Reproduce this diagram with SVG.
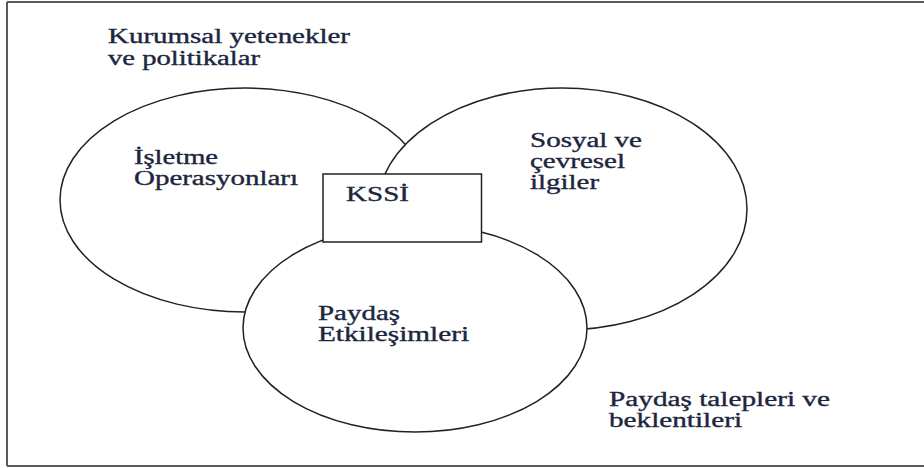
<svg xmlns="http://www.w3.org/2000/svg" width="924" height="468" viewBox="0 0 924 468">
<style>
.frame{stroke:#5a5a5a;stroke-width:2;fill:none}
.shape{fill:#fff;stroke:#222;stroke-width:1.5}
.t{font-family:"Liberation Serif","Times New Roman",serif;font-size:20px;fill:#1c2640;stroke:#1c2640;stroke-width:0.35}
</style>
<rect width="924" height="468" fill="#fff"/>
<g id="frame">
<line class="frame" x1="7" y1="2" x2="924" y2="2"/>
<line class="frame" x1="7" y1="466" x2="924" y2="466"/>
<line class="frame" x1="7" y1="2" x2="7" y2="466"/>
</g>
<g id="label-kurumsal">
<text class="t" x="108" y="43" textLength="242" lengthAdjust="spacingAndGlyphs">Kurumsal yetenekler</text>
<text class="t" x="108" y="65" textLength="152" lengthAdjust="spacingAndGlyphs">ve politikalar</text>
</g>
<g id="node-isletme">
<ellipse class="shape" cx="245" cy="200" rx="185" ry="112"/>
<text class="t" x="134" y="164" textLength="84" lengthAdjust="spacingAndGlyphs">İşletme</text>
<text class="t" x="134" y="185" textLength="164" lengthAdjust="spacingAndGlyphs">Operasyonları</text>
</g>
<g id="node-sosyal">
<ellipse class="shape" cx="562" cy="209" rx="185" ry="121"/>
<text class="t" x="530" y="147" textLength="112" lengthAdjust="spacingAndGlyphs">Sosyal ve</text>
<text class="t" x="530" y="168" textLength="95" lengthAdjust="spacingAndGlyphs">çevresel</text>
<text class="t" x="530" y="189" textLength="69" lengthAdjust="spacingAndGlyphs">ilgiler</text>
</g>
<g id="node-paydas">
<ellipse class="shape" cx="415" cy="328" rx="172" ry="104"/>
<text class="t" x="318" y="320" textLength="82" lengthAdjust="spacingAndGlyphs">Paydaş</text>
<text class="t" x="318" y="341" textLength="151" lengthAdjust="spacingAndGlyphs">Etkileşimleri</text>
</g>
<g id="node-kssi">
<rect class="shape" x="323" y="174" width="158.5" height="68"/>
<text class="t" x="346" y="200.5" textLength="63" lengthAdjust="spacingAndGlyphs">KSSİ</text>
</g>
<g id="label-paydas-talepleri">
<text class="t" x="609" y="406" textLength="221" lengthAdjust="spacingAndGlyphs">Paydaş talepleri ve</text>
<text class="t" x="609" y="427" textLength="133" lengthAdjust="spacingAndGlyphs">beklentileri</text>
</g>
<g id="connectors"></g>
</svg>
